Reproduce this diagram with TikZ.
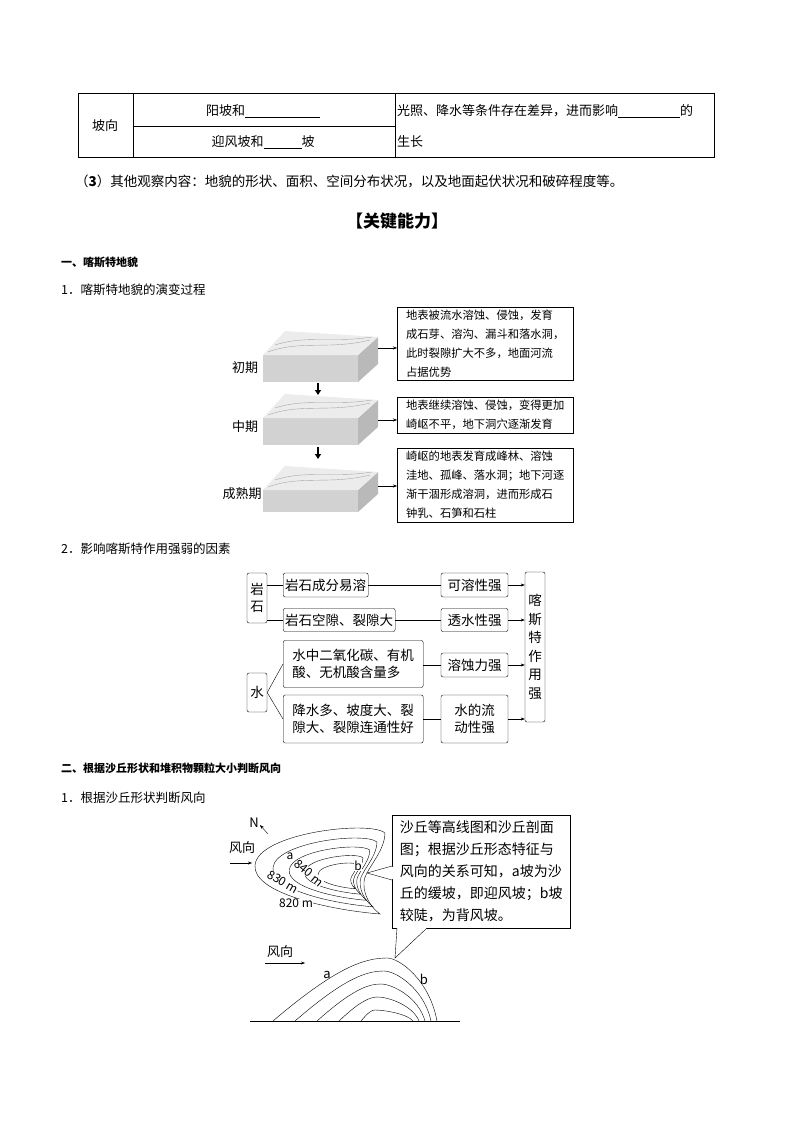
\documentclass[tikz,border=0pt]{standalone}
\usepackage{fontspec}
\setmainfont{Noto Sans CJK SC}
\usetikzlibrary{arrows.meta}
\begin{document}
\begin{tikzpicture}[x=1pt,y=-1pt,
  every node/.style={inner sep=1pt,font=\fontsize{13}{15}\selectfont},
  ar/.style={-{Stealth[length=4pt]}},
  lab/.style={anchor=west,font=\fontsize{13.5}{15}\selectfont}]
\useasboundingbox (0,0) rectangle (794,1123);
% table
\draw (78,93) rectangle (714,157);
\draw (133,93)--(133,157) (395,93)--(395,157) (133,126)--(395,126);
\node (po) at (105,126) {坡向};
\node (r1) at (263,111) {阳坡和\underline{\hspace{75pt}}};
\node (r2) at (263,142) {迎风坡和\underline{\hspace{38pt}}坡};
\node[anchor=west] (r3) at (396,111) {光照、降水等条件存在差异，进而影响\underline{\hspace{62pt}}的};
\node[anchor=west] (r4) at (396,142) {生长};
\node[lab] (p3) at (74,181) {（\textbf{3}）其他观察内容：地貌的形状、面积、空间分布状况，以及地面起伏状况和破碎程度等。};
\node[font=\fontsize{17}{20}\selectfont\bfseries] (gj) at (397,221) {【关键能力】};
\node[lab,font=\fontsize{11}{13}\selectfont\bfseries] (s1) at (60,262) {一、喀斯特地貌};
\node[lab,font=\fontsize{12.5}{15}\selectfont] (s11) at (60,290) {1．喀斯特地貌的演变过程};
% blocks
\foreach \y/\h in {355/27,418/27,490/22}{
  \fill[gray!35] (263,\y) rectangle (358,\y+\h);
  \fill[gray!55] (358,\y)--(378,\y-18)--(378,\y+\h-18)--(358,\y+\h)--cycle;
  \fill[gray!15] (263,\y)--(358,\y)--(378,\y-18)--(285,\y-24)--cycle;
  \draw[gray!70,thin] (268,\y-3) .. controls (300,\y-15) and (330,\y-5) .. (370,\y-15);
  \draw[gray!70,thin] (275,\y-10) .. controls (305,\y-20) and (335,\y-12) .. (372,\y-18);
}
\coordinate (c1) at (378,348); \coordinate (c2) at (378,420); \coordinate (c3) at (378,486);
\node (l1) at (245,368) {初期};
\node (l2) at (245,427) {中期};
\node (l3) at (242,494) {成熟期};
\draw[-{Triangle[length=5pt,width=6pt]},line width=2pt] (318,383)--(318,395);
\draw[-{Triangle[length=5pt,width=6pt]},line width=2pt] (318,447)--(318,459);
\tikzset{tx/.style={draw,align=left,anchor=north west,inner sep=3pt,minimum width=176pt,font=\fontsize{11.3}{19}\selectfont}}
\node[tx] (t1) at (397,307) {地表被流水溶蚀、侵蚀，发育\\成石芽、溶沟、漏斗和落水洞，\\此时裂隙扩大不多，地面河流\\占据优势};
\node[tx] (t2) at (397,397) {地表继续溶蚀、侵蚀，变得更加\\崎岖不平，地下洞穴逐渐发育};
\node[tx] (t3) at (397,448) {崎岖的地表发育成峰林、溶蚀\\洼地、孤峰、落水洞；地下河逐\\渐干涸形成溶洞，进而形成石\\钟乳、石笋和石柱};
\draw[ar] (c1)--(c1-|t1.west);
\draw[ar] (c2)--(c2-|t2.west);
\draw[ar] (c3)--(c3-|t3.west);
\node[lab,font=\fontsize{12.5}{15}\selectfont] (s12) at (60,549) {2．影响喀斯特作用强弱的因素};
% factors
\tikzset{fb/.style={draw,rounded corners=2pt,font=\fontsize{13.5}{17}\selectfont,inner sep=2pt,align=center}}
\node[fb,minimum width=20pt,minimum height=50pt] (ys) at (257,598) {岩\\石};
\node[fb,anchor=west,minimum height=24pt] (f1) at (283,585) {岩石成分易溶};
\node[fb,anchor=west,minimum height=23pt] (f2) at (283,620) {岩石空隙、裂隙大};
\node[fb,minimum width=67pt,minimum height=24pt] (g1) at (474.5,585) {可溶性强};
\node[fb,minimum width=67pt,minimum height=23pt] (g2) at (474.5,620) {透水性强};
\node[fb,minimum width=20pt,minimum height=150pt,font=\fontsize{13.5}{18.5}\selectfont] (kst) at (535,647) {喀\\斯\\特\\作\\用\\强};
\node[fb,anchor=west,align=left,minimum height=47pt,minimum width=140pt] (f3) at (283,664) {水中二氧化碳、有机\\酸、无机酸含量多};
\node[fb,minimum width=67pt,minimum height=24pt] (g3) at (474.5,665) {溶蚀力强};
\node[fb,minimum width=20pt,minimum height=39pt] (sh) at (257,692.5) {水};
\node[fb,anchor=west,align=left,minimum height=48pt,minimum width=140pt] (f4) at (283,719) {降水多、坡度大、裂\\隙大、裂隙连通性好};
\node[fb,minimum width=67pt,minimum height=48pt] (g4) at (474.5,719) {水的流\\动性强};
\draw (ys.east|-f1)--(f1) (ys.east|-f2)--(f2);
\draw (sh.east)--(f3.west) (sh.east)--(f4.west);
\draw (f1)--(g1) (f2)--(g2) (f3.east|-g3)--(g3) (f4)--(g4);
\draw[ar] (g1)--(g1-|kst.west); \draw[ar] (g2)--(g2-|kst.west);
\draw[ar] (g3)--(g3-|kst.west); \draw[ar] (g4)--(g4-|kst.west);
\node[lab,font=\fontsize{11}{13}\selectfont\bfseries] (s2) at (60,768) {二、根据沙丘形状和堆积物颗粒大小判断风向};
\node[lab,font=\fontsize{12.5}{15}\selectfont] (s21) at (60,798) {1．根据沙丘形状判断风向};
% dune plan
\foreach \s in {1,0.8,0.62,0.45,0.3}{
 \pgfmathsetmacro{\cx}{330+15*(1-\s)}
 \begin{scope}[shift={(\cx,878)},scale=\s]
 \draw (55,-45) .. controls (40,-58) and (-72,-45) .. (-75,-13)
   .. controls (-78,15) and (0,32) .. (50,36)
   .. controls (35,25) and (30,5) .. (37,-5)
   .. controls (42,-15) and (55,-30) .. (55,-45) -- cycle;
 \end{scope}}
\node (N) at (254,823) {N};
\draw[ar] (268,834)--(260,825);
\node (fx1) at (242,848) {风向};
\draw[ar] (230,863)--(252,863);
\tikzset{ml/.style={fill=white,inner sep=0pt,font=\fontsize{12}{13}\selectfont}}
\node[ml] (pa) at (290,856) {a};
\node[ml] (pb) at (358,866) {b};
\node[ml,rotate=-40] (m840) at (309,873) {840 m};
\node[ml,rotate=-30] (m830) at (283,882) {830 m};
\node[ml] (m820) at (296,903) {820 m};
% callout
\node[draw,align=left,anchor=north west,minimum width=178pt,minimum height=113pt,inner sep=4pt,fill=white,font=\fontsize{14}{22}\selectfont] (co) at (392,815) {沙丘等高线图和沙丘剖面\\图；根据沙丘形态特征与\\风向的关系可知，a坡为沙\\丘的缓坡，即迎风坡；b坡\\较陡，为背风坡。};
\coordinate (pt1) at (367,873); \coordinate (pt2) at (395,958);
\draw[fill=white] (392,866)--(pt1)--(392,880);
\draw[fill=white] (397,928)--(pt2)--(427,928);
\draw[white,line width=1.2pt] (392.6,867)--(392.6,879) (398,928.6)--(426,928.6);
% profile
\draw (250,1021)--(460,1021);
\foreach \k in {0,1,2,3,4}{
 \pgfmathsetmacro{\xl}{273+22*\k}\pgfmathsetmacro{\xr}{437-6*\k}
 \pgfmathsetmacro{\yt}{958+13*\k}\pgfmathsetmacro{\xc}{387-3*\k}
 \pgfmathsetmacro{\ca}{\xl+0.55*(\xc-\xl)}\pgfmathsetmacro{\cay}{\yt+0.15*(1021-\yt)}
 \pgfmathsetmacro{\cb}{\xc-0.2*(\xc-\xl)}
 \pgfmathsetmacro{\cc}{\xc+0.25*(\xr-\xc)}\pgfmathsetmacro{\cd}{\xr-0.15*(\xr-\xc)}
 \pgfmathsetmacro{\cdy}{\yt+0.35*(1021-\yt)}
 \draw (\xl,1021) .. controls (\ca,\cay) and (\cb,\yt) .. (\xc,\yt)
   .. controls (\cc,\yt) and (\cd,\cdy) .. (\xr,1021);
}
\node (fx2) at (280,952) {风向};
\draw[ar] (265,963)--(305,963);
\node (qa) at (327,975) {a};
\node (qb) at (424,979) {b};
\end{tikzpicture}
\end{document}
